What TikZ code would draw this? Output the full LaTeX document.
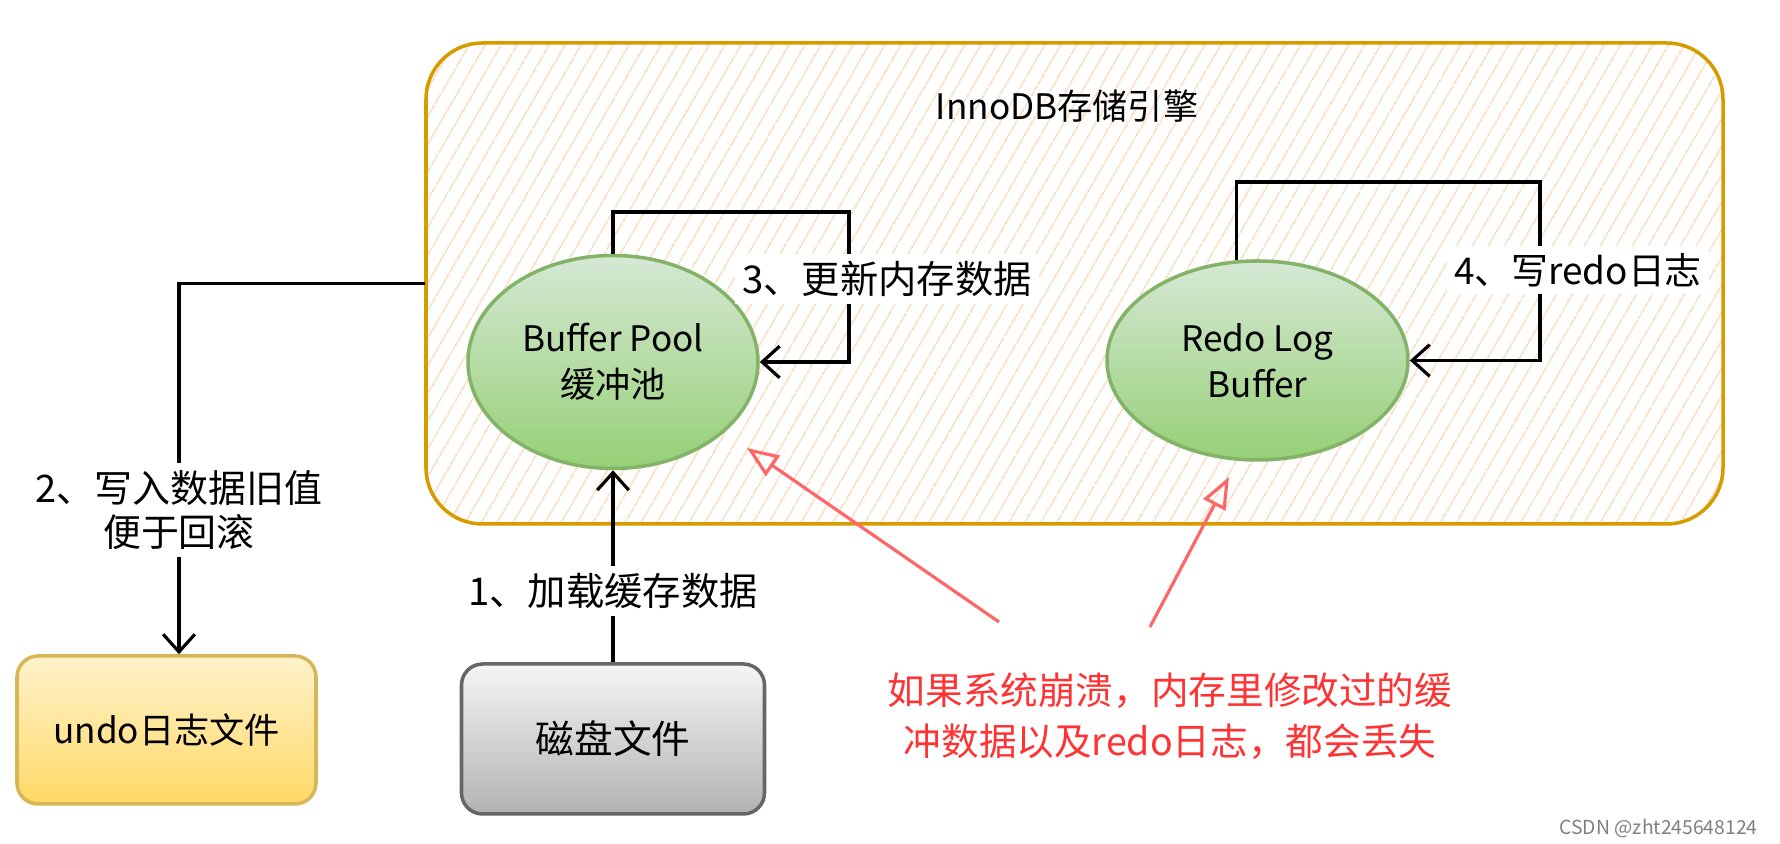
\documentclass[tikz,border=0pt]{standalone}
\usepackage{fontspec}
\setmainfont{Noto Sans CJK SC}
\usetikzlibrary{arrows.meta,patterns.meta,shapes.geometric}
\definecolor{engineline}{HTML}{D79B00}
\definecolor{enginehatch}{HTML}{FAD3AE}
\definecolor{bufline}{HTML}{82B366}
\definecolor{buftop}{HTML}{D5E8D4}
\definecolor{bufbot}{HTML}{97D077}
\definecolor{undoline}{HTML}{D6B656}
\definecolor{undotop}{HTML}{FFF2CC}
\definecolor{undobot}{HTML}{FFD966}
\definecolor{diskline}{HTML}{666666}
\definecolor{disktop}{HTML}{F5F5F5}
\definecolor{diskbot}{HTML}{B3B3B3}
\definecolor{crashred}{HTML}{FF6666}
\definecolor{crashtext}{HTML}{FF3333}
\begin{document}
\begin{tikzpicture}[
    every node/.style={font=\fontsize{10pt}{13pt}\selectfont},
    flow/.style={line width=0.9pt, -{Straight Barb[length=5pt,width=9pt]}},
    crash/.style={line width=0.9pt, draw=crashred, -{Triangle[open,length=9pt,width=7pt]}},
    tag/.style={fill=white, inner sep=2pt, align=center, font=\fontsize{10.9pt}{13pt}\selectfont},
    buffer/.style={ellipse, draw=bufline, line width=1pt, top color=buftop, bottom color=bufbot, align=center, inner sep=0pt},
    filebox/.style={rectangle, rounded corners=6pt, line width=1pt, align=center}]
            \fill[white] (0,0) rectangle (17.8,-8.44);
            \useasboundingbox (0,0) rectangle (17.8,-8.44);
            \node[rectangle, rounded corners=16pt, draw=engineline, line width=1pt,
                pattern={Lines[angle=60,distance=4pt,line width=0.35pt]}, pattern color=enginehatch,
                minimum width=12.97cm, minimum height=4.81cm] (engine) at (10.745,-2.835) {};
            \node (title) at (10.67,-1.06) {InnoDB存储引擎};
            \node[buffer, minimum width=2.9cm, minimum height=2.13cm] (pool) at (6.13,-3.62) {Buffer Pool\\缓冲池};
            \node[buffer, minimum width=3.01cm, minimum height=1.99cm] (redo) at (12.575,-3.605) {Redo Log\\Buffer};
            \node[filebox, draw=undoline, top color=undotop, bottom color=undobot,
                minimum width=2.99cm, minimum height=1.48cm] (undo) at (1.665,-7.30) {undo日志文件};
            \node[filebox, draw=diskline, top color=disktop, bottom color=diskbot, font=\fontsize{11pt}{13pt}\selectfont,
                minimum width=3.03cm, minimum height=1.50cm] (disk) at (6.13,-7.39) {磁盘文件};
            \draw[flow] (disk.north) -- (pool.south) node[tag, pos=0.37] (load) {1、加载缓存数据};
            \coordinate (bend) at (1.79,-2.835);
            \draw[flow] (engine.west) -- (bend) -- (bend |- undo.north);
            \node[tag, font=\fontsize{10.8pt}{12.5pt}\selectfont] (undolabel) at (1.79,-5.10) {2、写入数据旧值\\便于回滚};
            \draw[flow] (pool.north) |- (8.49,-2.12) |- (pool.east);
            \node[tag] (update) at (8.87,-2.79) {3、更新内存数据};
            \draw[flow] (redo.102) |- (15.40,-1.82) |- (redo.east);
            \node[tag, font=\fontsize{10.5pt}{13pt}\selectfont] (writeredo) at (15.78,-2.70) {4、写redo日志};
            \node[text=crashtext, align=center, font=\fontsize{10.7pt}{14.5pt}\selectfont] (warn) at (11.70,-7.16)
                {如果系统崩溃，内存里修改过的缓\\冲数据以及redo日志，都会丢失};
            \coordinate (crashA) at (9.99,-6.22);
            \coordinate (crashB) at (11.50,-6.27);
            \coordinate (hitpool) at (7.47,-4.48);
            \coordinate (hitredo) at (12.29,-4.77);
            \draw[crash] (crashA) -- (hitpool);
            \draw[crash] (crashB) -- (hitredo);
            \node[text=gray, font=\fontsize{5.5pt}{7pt}\selectfont, anchor=east] (mark) at (17.70,-8.28) {CSDN @zht245648124};
\end{tikzpicture}
\end{document}
